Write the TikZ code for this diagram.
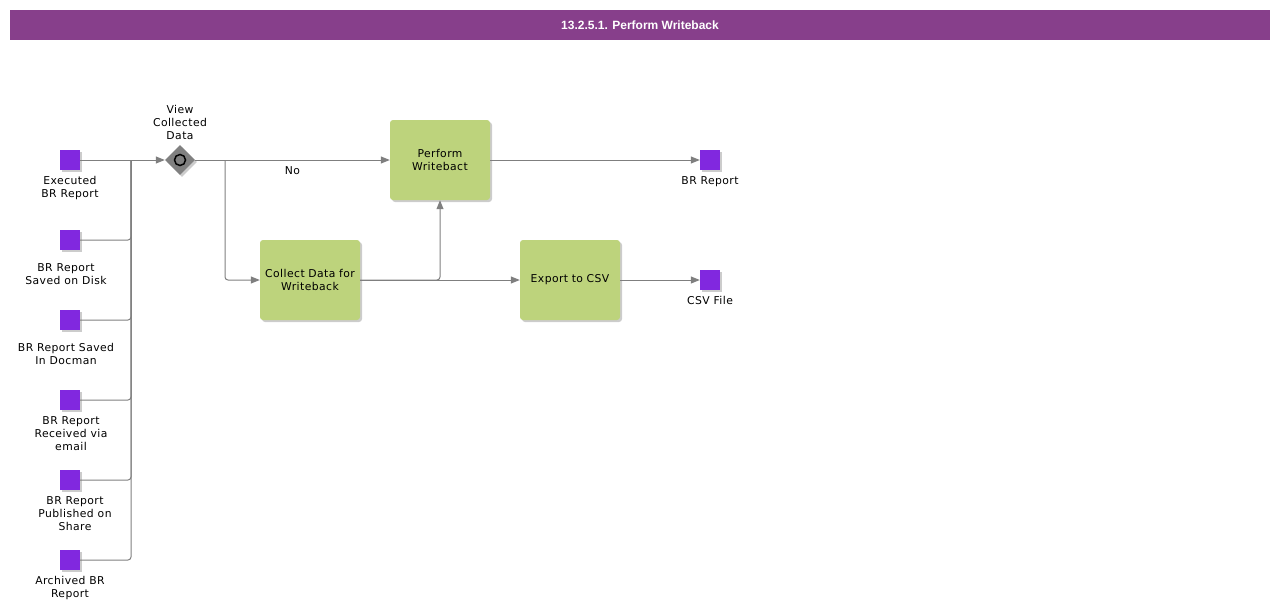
\documentclass[tikz,border=0pt]{standalone}
\usepackage{fontspec}
\setmainfont{DejaVu Sans}[LetterSpace=4]
\newfontfamily\titlefont{Liberation Sans}
\usepackage{tikz}
\usetikzlibrary{positioning,shapes.geometric,arrows.meta,shadows}
\definecolor{bannerpurple}{HTML}{873F8B}
\definecolor{datapurple}{HTML}{8128DF}
\definecolor{taskgreen}{HTML}{BDD37C}
\definecolor{flowgray}{HTML}{7F7F7F}
\definecolor{gwgray}{HTML}{808080}
\tikzset{
    >={Triangle[length=9pt,width=7pt]},
    font={\fontsize{10.8pt}{13pt}\selectfont},
    softshadow/.style={
        drop shadow={shadow xshift=2pt, shadow yshift=-2pt, fill=black, opacity=.2}
    },
    dataobj/.style={
        rectangle,
        fill=datapurple,
        minimum size=20pt,
        inner sep=0pt,
        softshadow
    },
    datalabel/.style={align=center, inner sep=0pt},
    task/.style={
        rectangle,
        rounded corners=3pt,
        fill=taskgreen,
        minimum width=100pt,
        minimum height=80pt,
        inner sep=2pt,
        text width=96pt,
        align=center,
        softshadow
    },
    gateway/.style={
        diamond,
        fill=gwgray,
        minimum size=30pt,
        inner sep=0pt,
        softshadow
    },
    flow/.style={draw=flowgray, line width=1pt, rounded corners=3pt},
}

\begin{document}
\begin{tikzpicture}[x=1pt, y=-1pt]
\useasboundingbox (0,0) rectangle (1280,610);

% banner
\node[fill=bannerpurple, minimum width=1260pt, minimum height=30pt, inner sep=0pt,
      text=white, font=\titlefont\bfseries\fontsize{12pt}{14pt}\selectfont]
      (title) at (640,25) {13.2.5.1. Perform Writeback};

% inputs
\node[dataobj] (s1) at (70,160) {};
\node[dataobj] (s2) at (70,240) {};
\node[dataobj] (s3) at (70,320) {};
\node[dataobj] (s4) at (70,400) {};
\node[dataobj] (s5) at (70,480) {};
\node[dataobj] (s6) at (70,560) {};
\node[datalabel, below=6pt of s1] (s1l) {Executed\\BR Report};
\node[datalabel, below=13pt of s2, xshift=-4pt] (s2l) {BR Report\\Saved on Disk};
\node[datalabel, below=13pt of s3, xshift=-4pt] (s3l) {BR Report Saved\\In Docman};
\node[datalabel, below=6pt of s4, xshift=1pt] (s4l) {BR Report\\Received via\\email};
\node[datalabel, below=6pt of s5, xshift=5pt] (s5l) {BR Report\\Published on\\Share};
\node[datalabel, below=6pt of s6] (s6l) {Archived BR\\Report};

% gateway
\node[gateway] (gw) at (180,160) {};
\node[circle, draw=black, line width=1.5pt, fill=gwgray, minimum size=11pt, inner sep=0pt] (gwring) at (gw) {};
\node[datalabel, above=5pt of gw] (gwl) {View\\Collected\\Data};

% tasks
\node[task] (pw) at (440,160) {Perform\\Writebact};
\node[task] (cd) at (310,280) {Collect Data for\\Writeback};
\node[task] (ex) at (570,280) {Export to CSV};

% outputs
\node[dataobj] (t1) at (710,160) {};
\node[dataobj] (t2) at (710,280) {};
\node[datalabel, below=6pt of t1] (t1l) {BR Report};
\node[datalabel, below=6pt of t2] (t2l) {CSV File};

% connectors
\coordinate (bus) at (131,160);
\coordinate (split) at (225,160);
\draw[flow,->] (s1) -- (gw);
\foreach \s in {s2,s3,s4,s5,s6}
    \draw[flow] (\s.east) -| (bus);
\draw[flow,->] (gw) -- node[below=6pt, inner sep=0pt] (nolbl) {No} (pw);
\draw[flow,->] (split) |- (cd);
\draw[flow,->] (cd) -| (pw);
\draw[flow,->] (cd) -- (ex);
\draw[flow,->] (pw) -- (t1);
\draw[flow,->] (ex) -- (t2);
\end{tikzpicture}
\end{document}
